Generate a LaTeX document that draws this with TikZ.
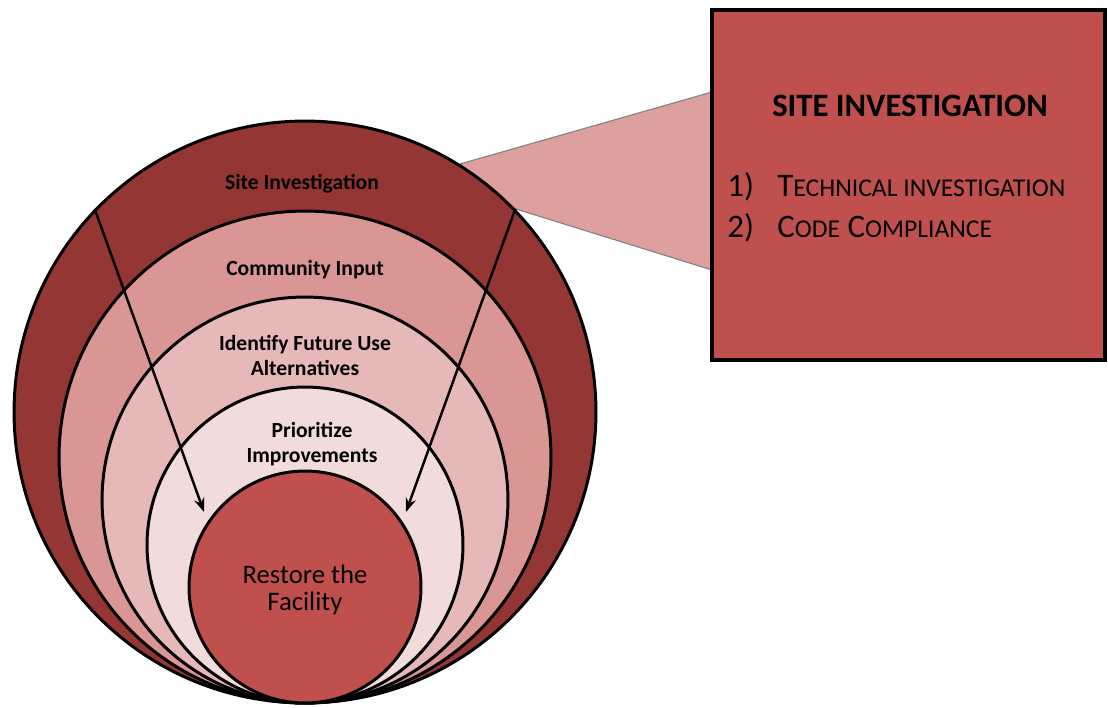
\documentclass[tikz,border=0pt]{standalone}
\usepackage{fontspec}
\setmainfont{Carlito}
\usetikzlibrary{arrows.meta,backgrounds}

\definecolor{ringdark}{HTML}{943634}
\definecolor{ringmid}{HTML}{D99694}
\definecolor{ringlight}{HTML}{E6B9B8}
\definecolor{ringpale}{HTML}{F2DCDB}
\definecolor{corered}{HTML}{C0504D}
\definecolor{calloutpink}{HTML}{DDA09F}

\newcommand{\lowcap}[1]{{\fontsize{14.6}{16}\selectfont #1}}

\tikzset{
  ring/.style={circle, draw, line width=1.7pt, inner sep=0pt},
  ringtext/.style={font=\bfseries\fontsize{12.3}{14.2}\selectfont, align=center},
  flow/.style={-{Stealth[length=2.8mm,width=2.1mm]}, line width=1.4pt},
  boxtext/.style={font=\fontsize{18.7}{20}\selectfont, anchor=base west, inner sep=0pt}
}

\begin{document}
\begin{tikzpicture}[x=0.02cm, y=-0.02cm]
\useasboundingbox (0,0) rectangle (1108,707);

\node[ring, fill=ringdark,  minimum size=11.64cm] (site)       at (305,412) {};
\node[ring, fill=ringmid,   minimum size=9.84cm]  (community)  at (305,457) {};
\node[ring, fill=ringlight, minimum size=8.12cm]  (identify)   at (305,500) {};
\node[ring, fill=ringpale,  minimum size=6.32cm]  (prioritize) at (305,545) {};
\node[ring, fill=corered,   minimum size=4.64cm]  (restore)    at (305,587) {};

% callout from the outer ring to the box
\coordinate (c1) at (712,92);
\coordinate (c2) at (712,270);
\begin{scope}[on background layer]
\path[fill=calloutpink, draw=gray, line width=0.6pt] (site.58) -- (c1) -- (c2) -- (site.44) -- cycle;
\end{scope}

\coordinate (tipL) at (204,512);
\coordinate (tipR) at (406,512);
\draw[flow] (site.136) -- (tipL);
\draw[flow] (site.44)  -- (tipR);

\node[ringtext] (siteLabel)       at (302,184) {Site Investigation};
\node[ringtext] (communityLabel)  at (305,270) {Community Input};
\node[ringtext] (identifyLabel)   at (305,355) {Identify Future Use\\Alternatives};
\node[ringtext] (prioritizeLabel) at (312,444) {Prioritize\\Improvements};
\node[font=\fontsize{15.2}{15.5}\selectfont, align=center] (restoreLabel) at (305,590) {Restore the\\Facility};

\node[draw, line width=2pt, fill=corered, minimum width=7.86cm, minimum height=7cm, inner sep=0pt] (detail) at (908.5,185) {};
\node[font=\bfseries\fontsize{18.6}{20}\selectfont] (detailTitle) at (910,106) {SITE INVESTIGATION};
\node[boxtext] (num1)  at (727,196) {1)};
\node[boxtext] (item1) at (777,196) {T\lowcap{ECHNICAL INVESTIGATION}};
\node[boxtext] (num2)  at (727,237) {2)};
\node[boxtext] (item2) at (777,237) {C\lowcap{ODE} C\lowcap{OMPLIANCE}};
\end{tikzpicture}
\end{document}
